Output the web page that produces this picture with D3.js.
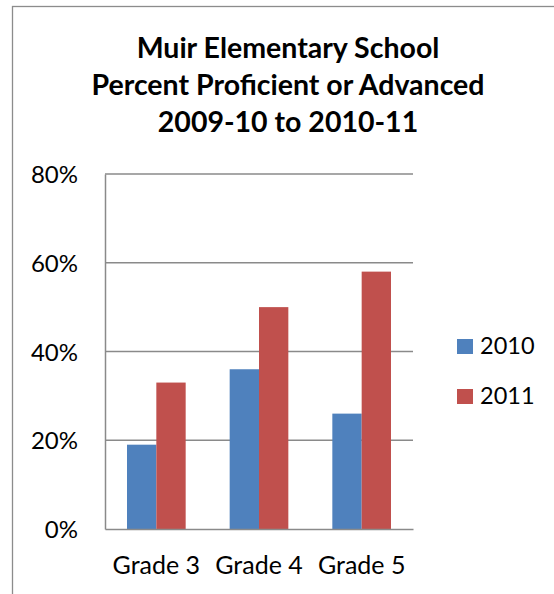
<!DOCTYPE html>
<html>
<head>
<meta charset="utf-8">
<script src="https://cdn.jsdelivr.net/npm/d3@7"></script>
<style>
  body { margin: 0; background: #fff; }
  svg { display: block; }
  text { font-family: Lato, "Open Sans", sans-serif; fill: #000; }
</style>
</head>
<body>
<div id="chart"></div>
<script>
// Chart data
const grades = ["Grade 3", "Grade 4", "Grade 5"];
const years = ["2010", "2011"];
const values2010 = [0.19, 0.36, 0.26];
const values2011 = [0.33, 0.50, 0.58];
const yTicks = [0, 0.2, 0.4, 0.6, 0.8];
const titleLines = ["Muir Elementary School", "Percent Proficient or Advanced", "2009-10 to 2010-11"];
const colors = ["#4F81BD", "#C0504D"];

function drawChart() {
    const W = 554, H = 594;
    const plot = { left: 105, top: 174, right: 413, bottom: 529 };

    const svg = d3.select('#chart')
        .append('svg')
        .attr('width', W)
        .attr('height', H);

    // chart area border (runs off the right and bottom)
    svg.append('rect')
        .attr('x', 12.5).attr('y', 6.5)
        .attr('width', 560).attr('height', 610)
        .attr('fill', 'none')
        .attr('stroke', '#8c8c8c')
        .attr('stroke-width', 1.3);

    // title
    svg.append('text')
        .attr('text-anchor', 'middle')
        .attr('font-weight', 'bold')
        .attr('font-size', 28.5)
        .selectAll('tspan')
        .data(titleLines)
        .enter()
        .append('tspan')
        .attr('x', 288)
        .attr('y', (d, i) => 58 + i * 37)
        .text(d => d);

    const x0 = d3.scaleBand()
        .domain(grades)
        .range([plot.left, plot.right]);

    // Excel gap width 150%: each bar = band / 3.5
    const barW = x0.bandwidth() / 3.5;
    const x1 = d3.scaleBand()
        .domain(years)
        .range([0, barW * 2]);

    const y = d3.scaleLinear()
        .domain([0, 0.8])
        .range([plot.bottom, plot.top]);

    // gridlines
    svg.append('g')
        .selectAll('line')
        .data(yTicks.filter(d => d > 0))
        .enter()
        .append('line')
        .attr('x1', plot.left).attr('x2', plot.right)
        .attr('y1', d => y(d)).attr('y2', d => y(d))
        .attr('stroke', '#8a8a8a')
        .attr('stroke-width', 1.5);

    // bars
    const series = [values2010, values2011];
    const groups = svg.append('g')
        .selectAll('g')
        .data(grades)
        .enter()
        .append('g')
        .attr('transform', d => 'translate(' + (x0(d) + (x0.bandwidth() - barW * 2) / 2) + ',0)');

    groups.selectAll('rect')
        .data((d, gi) => years.map((yr, si) => ({ yr: yr, v: series[si][gi], c: colors[si] })))
        .enter()
        .append('rect')
        .attr('x', d => x1(d.yr))
        .attr('y', d => y(d.v))
        .attr('width', x1.bandwidth())
        .attr('height', d => y(0) - y(d.v))
        .attr('fill', d => d.c);

    // y axis
    const yAxis = svg.append('g')
        .attr('transform', 'translate(' + plot.left + ',0)')
        .call(d3.axisLeft(y).tickValues(yTicks).tickFormat(d3.format('.0%')).tickSize(0).tickPadding(27));
    yAxis.select('.domain').attr('stroke', '#8a8a8a').attr('stroke-width', 1.5);
    yAxis.selectAll('text').attr('font-size', 24).attr('font-family', 'Lato').attr('dy', '0.36em');

    // x axis
    const xAxis = svg.append('g')
        .attr('transform', 'translate(0,' + plot.bottom + ')')
        .call(d3.axisBottom(x0).tickSize(0).tickPadding(27));
    xAxis.select('.domain').attr('stroke', '#8a8a8a').attr('stroke-width', 1.5);
    xAxis.selectAll('text').attr('font-size', 25).attr('font-family', 'Lato').attr('dy', '0.71em');

    // legend
    const legend = svg.selectAll('.legend')
        .data(years)
        .enter()
        .append('g')
        .attr('class', 'legend')
        .attr('transform', (d, i) => 'translate(457,' + (339 + i * 50) + ')');

    legend.append('rect')
        .attr('width', 16)
        .attr('height', 15)
        .attr('fill', (d, i) => colors[i]);

    legend.append('text')
        .attr('x', 23)
        .attr('y', 15)
        .attr('font-size', 23.5)
        .text(d => d);
}

document.addEventListener("DOMContentLoaded", drawChart);
</script>
</body>
</html>
